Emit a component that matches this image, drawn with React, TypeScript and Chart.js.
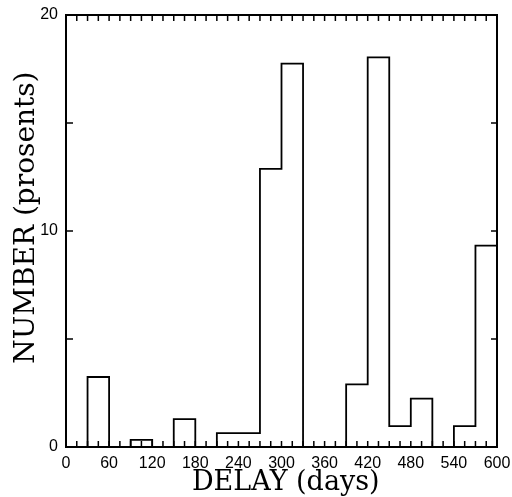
import React, { useEffect, useRef } from "react";
import { Chart, registerables } from "chart.js";

Chart.register(...registerables);

// Histogram bins (start of each 30-day bin) and their percentages
const binStarts = [0, 30, 60, 90, 120, 150, 180, 210, 240, 270, 300, 330, 360, 390, 420, 450, 480, 510, 540, 570];
const binWidth = 30;
const values = [0, 3.24, 0, 0.33, 0, 1.29, 0, 0.64, 0.64, 12.88, 17.75, 0, 0, 2.9, 18.04, 0.97, 2.24, 0, 0.97, 9.32];
const xTickStep = 60;
const yTickValues = [0, 5, 10, 15, 20];
const yLabelStep = 10;

const framePlugin = {
  id: "frameTicks",
  afterDatasetsDraw(chart: any) {
    const { ctx, chartArea } = chart;
    const xs = chart.scales.x;
    const ys = chart.scales.y;
    const { left, right, top, bottom } = chartArea;
    ctx.save();
    ctx.strokeStyle = "#000";
    ctx.lineWidth = 2;
    ctx.strokeRect(left, top, right - left, bottom - top);
    ctx.lineWidth = 1.5;
    ctx.beginPath();
    for (let v = 0; v <= 600; v += 15) {
      const px = xs.getPixelForValue(v);
      ctx.moveTo(px, bottom);
      ctx.lineTo(px, bottom - 6);
      ctx.moveTo(px, top);
      ctx.lineTo(px, top + 6);
    }
    for (const v of yTickValues) {
      const py = ys.getPixelForValue(v);
      ctx.moveTo(left, py);
      ctx.lineTo(left + 7, py);
      ctx.moveTo(right, py);
      ctx.lineTo(right - 6, py);
    }
    ctx.stroke();
    ctx.restore();
  },
};

export default function App() {
  const ref = useRef<HTMLCanvasElement>(null);
  useEffect(() => {
    document.body.style.margin = "0";
    const points = binStarts.map((s, i) => ({ x: s, y: values[i] }));
    points.push({ x: binStarts[binStarts.length - 1] + binWidth, y: values[values.length - 1] });
    const chart = new Chart(ref.current as HTMLCanvasElement, {
      type: "line",
      data: {
        datasets: [
          {
            data: points,
            stepped: "before",
            borderColor: "#000",
            borderWidth: 1.8,
            pointRadius: 0,
            fill: false,
          },
        ],
      },
      options: {
        animation: false,
        responsive: true,
        maintainAspectRatio: false,
        layout: { padding: { top: 15, right: 15, left: 0, bottom: 0 } },
        plugins: { legend: { display: false }, tooltip: { enabled: false } },
        scales: {
          x: {
            type: "linear",
            min: 0,
            max: 600,
            grid: { display: false, drawTicks: false, tickLength: 0 },
            border: { display: false },
            ticks: {
              stepSize: xTickStep,
              autoSkip: false,
              maxRotation: 0,
              padding: 7,
              color: "#000",
              font: { family: "Liberation Sans", size: 16 },
            },
            title: {
              display: true,
              text: " DELAY (days)",
              color: "#000",
              font: { family: "DejaVu Serif", size: 27 },
              padding: { top: 0, bottom: -2 },
            },
            afterFit: (s: any) => {
              s.height = 50;
              s.paddingLeft = 0;
              s.paddingRight = 0;
            },
          },
          y: {
            min: 0,
            max: 20,
            grid: { display: false, drawTicks: false, tickLength: 0 },
            border: { display: false },
            ticks: {
              stepSize: yLabelStep,
              padding: 8,
              color: "#000",
              font: { family: "Liberation Sans", size: 16 },
            },
            title: {
              display: true,
              text: "   NUMBER (prosents)",
              color: "#000",
              font: { family: "DejaVu Serif", size: 28 },
              padding: { top: 10, bottom: 0 },
            },
            afterFit: (s: any) => {
              s.width = 66;
              s.paddingTop = 0;
              s.paddingBottom = 0;
            },
          },
        },
      },
      plugins: [framePlugin],
    });
    return () => chart.destroy();
  }, []);
  return (
    <div style={{ position: "absolute", left: 0, top: 0, width: 512, height: 497, background: "#fff" }}>
      <canvas ref={ref} />
    </div>
  );
}
